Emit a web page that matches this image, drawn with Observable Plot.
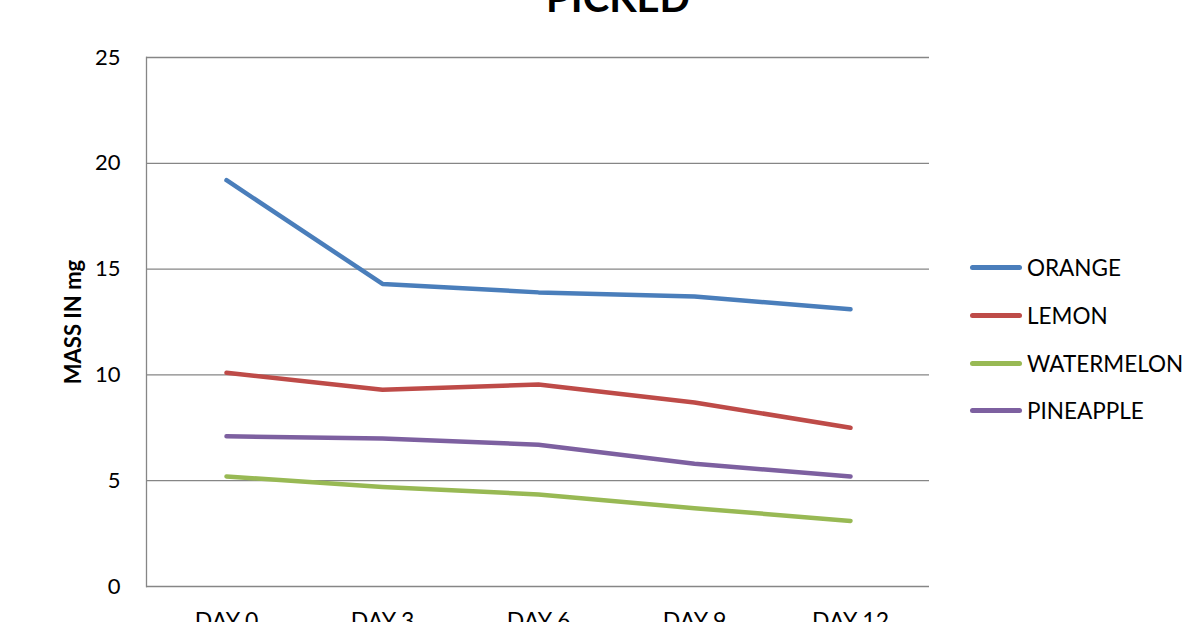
<!DOCTYPE html>
<html>
<head>
<meta charset="utf-8">
<script src="https://cdn.jsdelivr.net/npm/d3@7"></script>
<script src="https://cdn.jsdelivr.net/npm/@observablehq/plot@0.6"></script>
<style>
  html, body { margin: 0; padding: 0; background: #fff; overflow: hidden; }
  #wrap { position: relative; width: 1182px; height: 622px; font-family: Lato, "Open Sans", sans-serif; }
  #legend { position: absolute; left: 970px; top: 244px; }
  .row { display: flex; align-items: center; height: 47.7px; white-space: nowrap; }
  .sw { width: 52px; height: 5px; border-radius: 3px; margin-right: 5px; }
  .lab { font-size: 22.5px; color: #000; }
</style>
</head>
<body>
<div id="wrap"></div>
<script>
const title = "PICKED";
const yLabel = "MASS IN mg";
const days = ["DAY 0", "DAY 3", "DAY 6", "DAY 9", "DAY 12"];
const series = ["ORANGE", "LEMON", "WATERMELON", "PINEAPPLE"];
const colors = ["#4a7ebb", "#be4b48", "#98b954", "#7d60a0"];
const orange = [19.2, 14.3, 13.9, 13.7, 13.1];
const lemon = [10.1, 9.3, 9.55, 8.7, 7.5];
const watermelon = [5.2, 4.7, 4.35, 3.7, 3.1];
const pineapple = [7.1, 7.0, 6.7, 5.8, 5.2];
const yTicks = [0, 5, 10, 15, 20, 25];

const values = [orange, lemon, watermelon, pineapple];
const data = [];
series.forEach((s, i) => days.forEach((d, j) => data.push({series: s, day: d, value: values[i][j]})));

const chart = Plot.plot({
  width: 1182,
  height: 622,
  marginLeft: 146,
  marginRight: 253,
  marginTop: 57,
  marginBottom: 36,
  style: {fontFamily: "Lato, 'Open Sans', sans-serif", background: "#fff", overflow: "visible"},
  x: {type: "point", domain: days, padding: 0.5, label: null},
  y: {domain: [0, 25], ticks: yTicks, label: null},
  color: {domain: series, range: colors},
  marks: [
    Plot.gridY(yTicks, {stroke: "#868686", strokeOpacity: 1, strokeWidth: 1.3}),
    Plot.frame({anchor: "left", stroke: "#868686", strokeWidth: 1.3}),
    Plot.axisY({ticks: yTicks, tickSize: 0, tickPadding: 26, fontSize: 22, label: null}),
    Plot.axisX({tickSize: 0, tickPadding: 26, fontSize: 23, label: null}),
    Plot.line(data, {x: "day", y: "value", z: "series", stroke: "series", strokeWidth: 4.5, strokeLinecap: "round", strokeLinejoin: "round"}),
    Plot.text([title], {frameAnchor: "top", dx: 80, dy: -46, lineAnchor: "bottom", fontSize: 40, fontWeight: "bold"}),
    Plot.text([yLabel], {frameAnchor: "left", dx: -73, rotate: -90, textAnchor: "middle", lineAnchor: "middle", fontSize: 22, fontWeight: "bold"})
  ]
});

const wrap = document.getElementById("wrap");
wrap.appendChild(chart);
const legend = document.createElement("div");
legend.id = "legend";
series.forEach((s, i) => {
  const row = document.createElement("div");
  row.className = "row";
  row.innerHTML = `<div class="sw" style="background:${colors[i]}"></div><span class="lab">${s}</span>`;
  legend.appendChild(row);
});
wrap.appendChild(legend);
</script>
</body>
</html>
